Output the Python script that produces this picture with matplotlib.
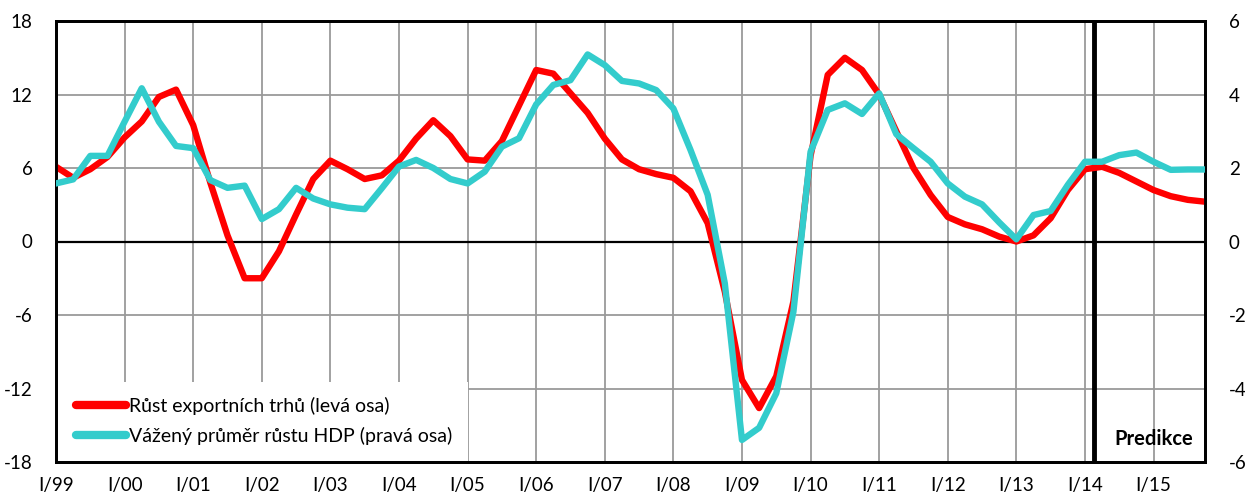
import numpy as np
import matplotlib.pyplot as plt
from matplotlib.patches import Rectangle

plt.rcParams['font.family'] = ['Lato', 'DejaVu Sans']
plt.rcParams['axes.unicode_minus'] = False

# quarterly data I/99 .. IV/15
export_markets = [6.1, 5.2, 5.9, 6.9, 8.5, 9.8, 11.8, 12.4,
                  9.5, 4.8, 0.5, -3.0, -3.0, -0.8, 2.2, 5.1,
                  6.6, 5.9, 5.1, 5.4, 6.6, 8.4, 9.9, 8.6,
                  6.7, 6.6, 8.2, 11.1, 14.0, 13.7, 12.1, 10.5,
                  8.4, 6.7, 5.9, 5.5, 5.2, 4.1, 1.5, -4.1,
                  -11.3, -13.6, -11.0, -4.9, 7.0, 13.6, 15.0, 14.0,
                  12.0, 9.0, 6.0, 3.8, 2.0, 1.4, 1.0, 0.4,
                  0.0, 0.5, 1.9, 4.2, 5.9, 6.1, 5.6, 4.9,
                  4.2, 3.7, 3.4, 3.25]
gdp_weighted = [1.58, 1.69, 2.33, 2.33, 3.26, 4.17, 3.26, 2.6,
                2.54, 1.67, 1.46, 1.52, 0.61, 0.88, 1.46, 1.17,
                1.01, 0.92, 0.88, 1.45, 2.04, 2.22, 2.0, 1.7,
                1.58, 1.9, 2.58, 2.81, 3.73, 4.26, 4.39, 5.09,
                4.8, 4.37, 4.3, 4.12, 3.62, 2.49, 1.27, -1.14,
                -5.4, -5.07, -4.13, -1.91, 2.44, 3.58, 3.76, 3.47,
                4.03, 2.92, 2.54, 2.17, 1.58, 1.22, 1.01, 0.52,
                0.06, 0.72, 0.83, 1.54, 2.17, 2.17, 2.35, 2.42,
                2.17, 1.95, 1.96, 1.96]
year_labels = ['I/99', 'I/00', 'I/01', 'I/02', 'I/03', 'I/04', 'I/05', 'I/06',
               'I/07', 'I/08', 'I/09', 'I/10', 'I/11', 'I/12', 'I/13', 'I/14', 'I/15']
forecast_start = 60.5

x = np.arange(len(export_markets))

fig = plt.figure(figsize=(12.45, 4.99), dpi=100)
ax = fig.add_axes([56/1245, 1-462/499, 1149/1245, 441/499])
ax2 = ax.twinx()

ax.set_xlim(0, len(x)-1)
ax.set_ylim(-18, 18)
ax.set_yticks(np.arange(-18, 19, 6))
ax2.set_ylim(-6, 6)
ax2.set_yticks(np.arange(-6, 7, 2))
ax.set_xticks(np.arange(0, len(x), 4))
ax.set_xticklabels(year_labels)

ax.grid(True, color='#9a9a9a', lw=1.3)
ax.set_axisbelow(True)
ax.axhline(0, color='black', lw=1.6, zorder=1.2)
ax.axvline(forecast_start, color='black', lw=3.5, zorder=1.2)

# white area behind the legend
ax.add_patch(Rectangle((0, 0), 0.3586, 0.181, transform=ax.transAxes,
                       facecolor='white', edgecolor='none', zorder=1.1))

l1, = ax.plot(x, export_markets, color='#ff0000', lw=4.6, solid_joinstyle='round',
              zorder=3, label='Růst exportních trhů (levá osa)')
l2, = ax2.plot(x, gdp_weighted, color='#33cccc', lw=4.6, solid_joinstyle='round',
               zorder=3, label='Vážený průměr růstu HDP (pravá osa)')

for a in (ax, ax2):
    for s in a.spines.values():
        s.set_linewidth(2)
        s.set_color('black')
    a.tick_params(length=0, labelsize=13.5)
ax.tick_params(axis='y', pad=17)
ax.tick_params(axis='x', pad=11)
ax2.tick_params(axis='y', pad=17)

leg = ax2.legend(handles=[l1, l2], loc='lower left', bbox_to_anchor=(0.002, 0.0),
                 frameon=False, fontsize=14, handlelength=2.6, handletextpad=0.15,
                 labelspacing=0.6)
for h in leg.legend_handles:
    h.set_linewidth(6)
    h.set_solid_capstyle('round')

ax2.text(0.99, 0.03, 'Predikce', transform=ax2.transAxes, ha='right', va='bottom',
         fontsize=14.5, fontweight='bold')

fig.savefig('out.png', dpi=100)
